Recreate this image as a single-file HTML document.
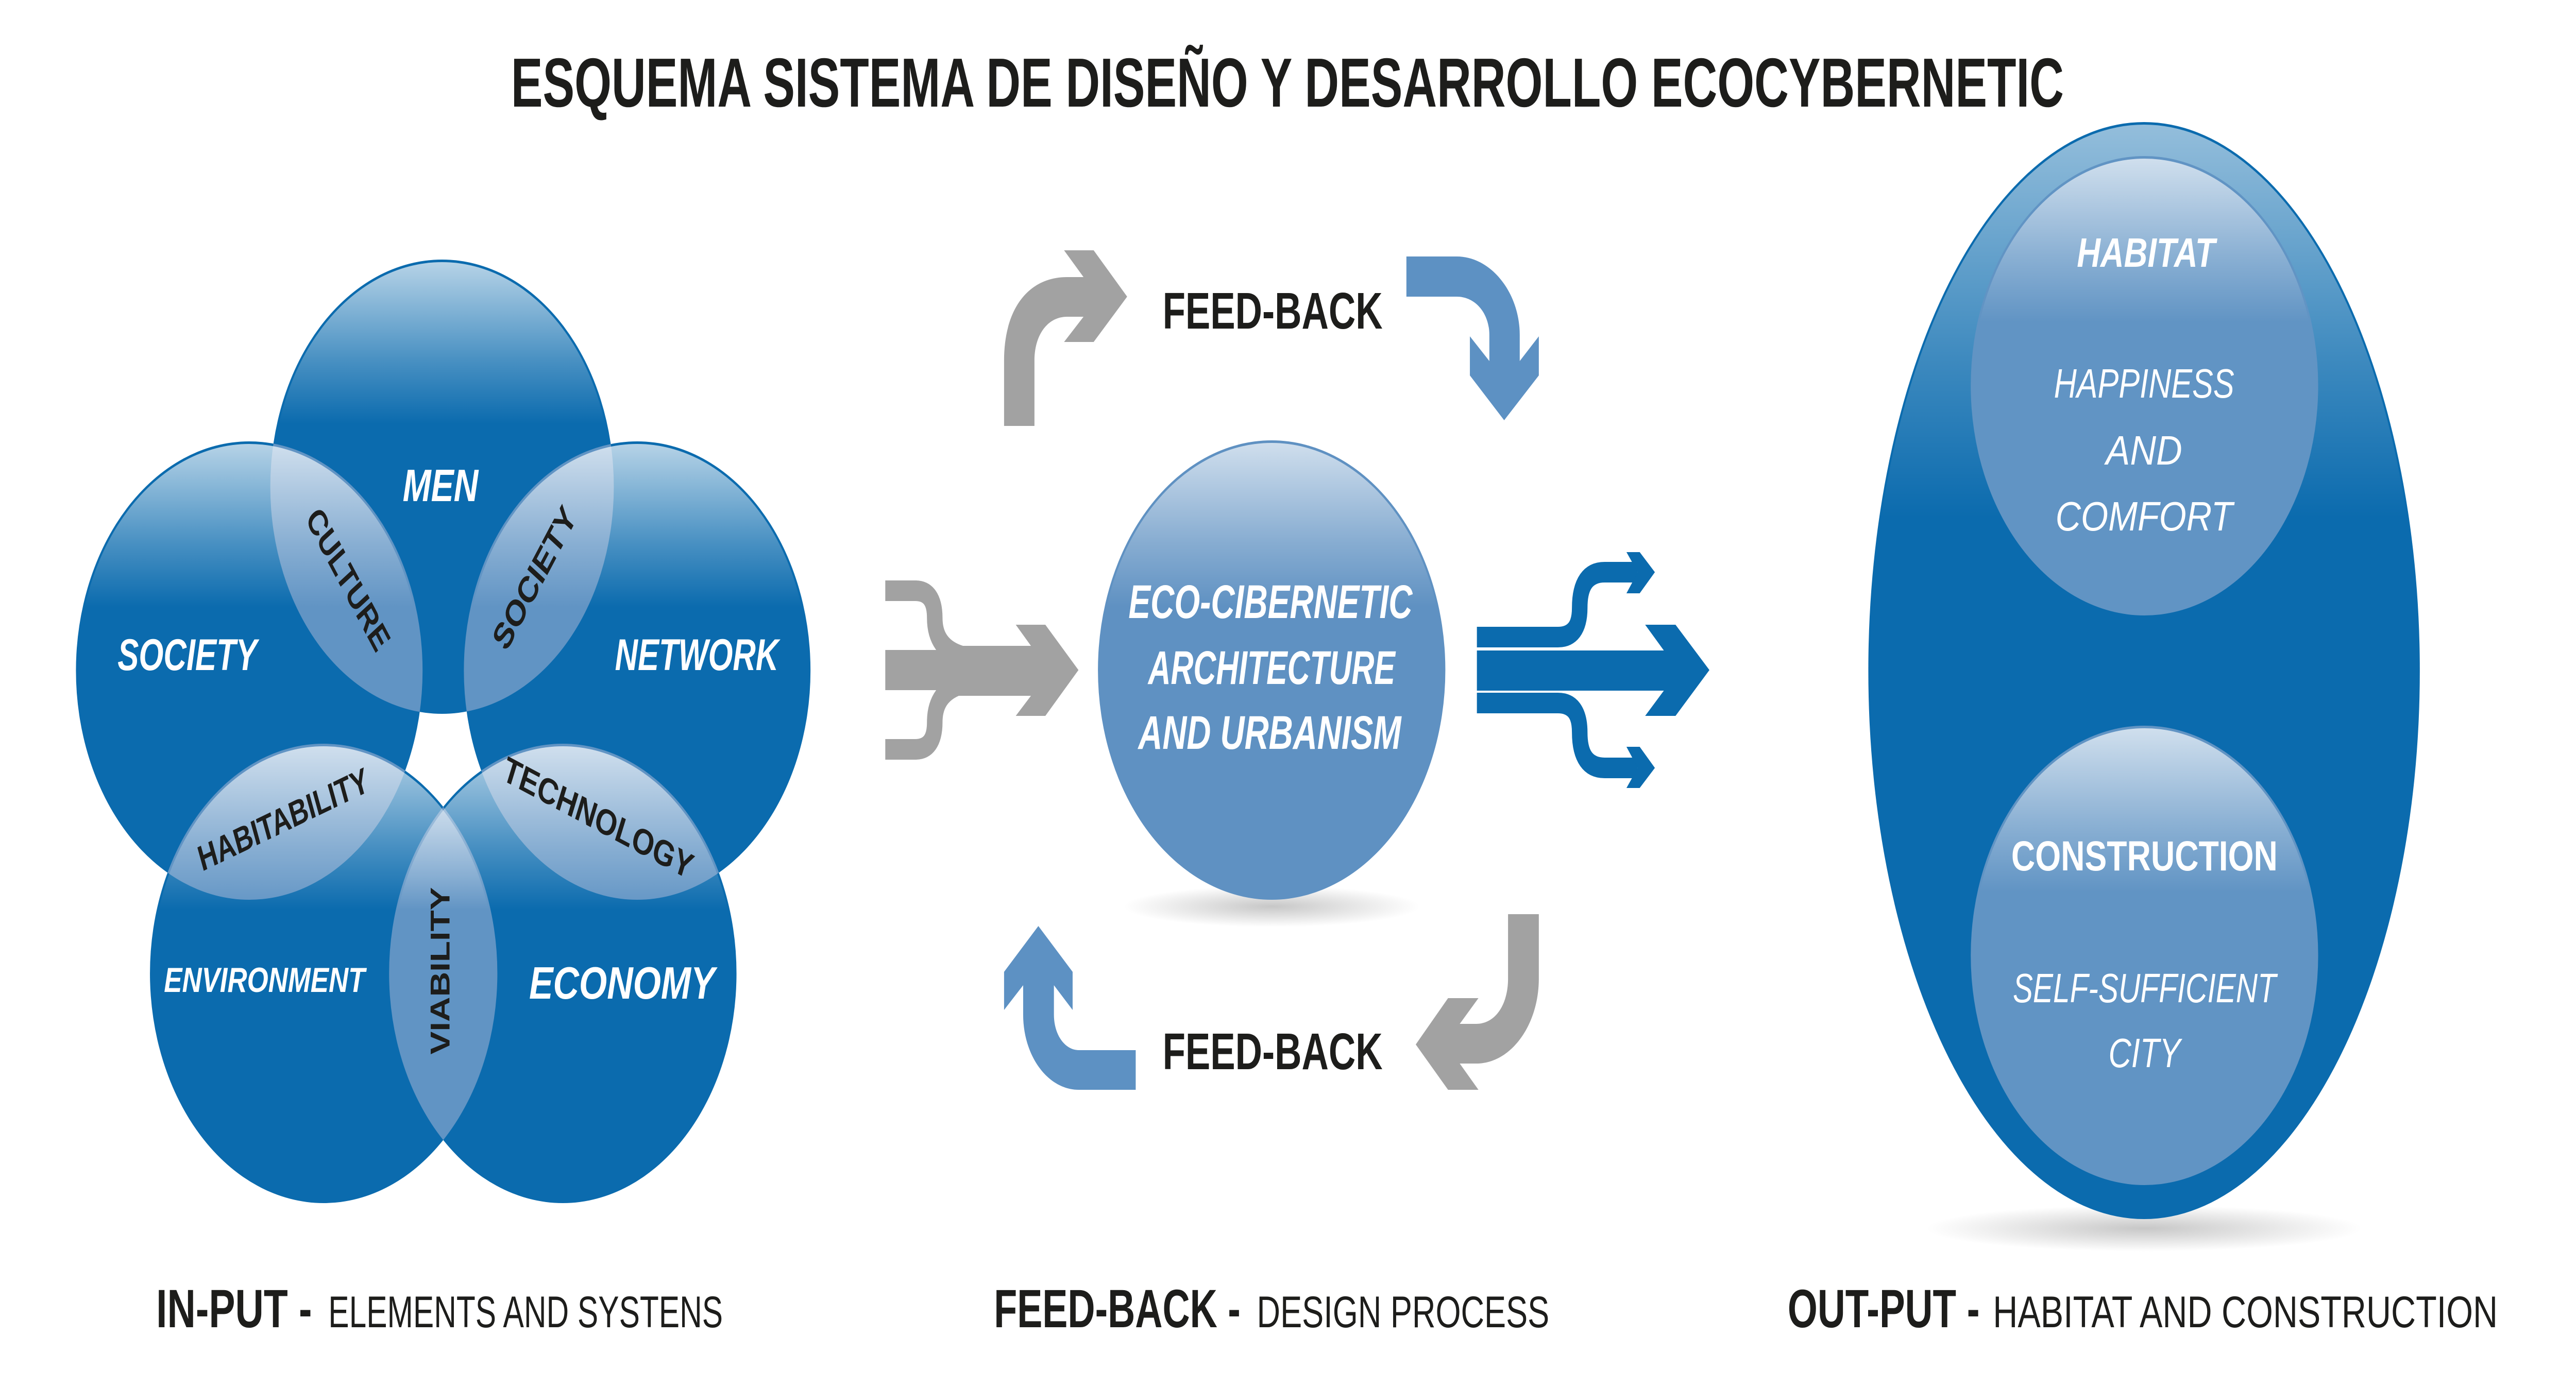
<!DOCTYPE html>
<html><head><meta charset="utf-8"><style>
html,body{margin:0;padding:0;background:#fff;width:100%;height:100%;overflow:hidden;}
svg{display:block;width:100vw;height:100vh;}
text{font-family:"Liberation Sans",sans-serif;}
</style></head><body>
<svg viewBox="0 0 6614 2695" preserveAspectRatio="none" xmlns="http://www.w3.org/2000/svg">
<defs>
<linearGradient id="gl" x1="0" y1="0" x2="0" y2="1">
<stop offset="0" stop-color="#fff" stop-opacity="0.7"/>
<stop offset="0.22" stop-color="#fff" stop-opacity="0.25"/>
<stop offset="0.36" stop-color="#fff" stop-opacity="0"/>
<stop offset="1" stop-color="#fff" stop-opacity="0"/>
</linearGradient>
<radialGradient id="sh" cx="0.5" cy="0.5" r="0.5">
<stop offset="0" stop-color="#000" stop-opacity="0.22"/>
<stop offset="1" stop-color="#000" stop-opacity="0"/>
</radialGradient>
<clipPath id="cMen"><circle cx="1135" cy="945" r="441"/></clipPath>
<clipPath id="cSoc"><circle cx="640" cy="1302" r="445"/></clipPath>
<clipPath id="cNet"><circle cx="1636" cy="1302" r="445"/></clipPath>
<clipPath id="cEnv"><circle cx="831" cy="1890" r="446"/></clipPath>
</defs>

<text x="1312" y="207" font-size="135" font-weight="bold" fill="#1d1d1b" textLength="3987" lengthAdjust="spacingAndGlyphs">ESQUEMA SISTEMA DE DISEÑO Y DESARROLLO ECOCYBERNETIC</text>

<g fill="#0b6bae">
<circle cx="1135" cy="945" r="441"/>
<circle cx="640" cy="1302" r="445"/>
<circle cx="1636" cy="1302" r="445"/>
<circle cx="831" cy="1890" r="446"/>
<circle cx="1445" cy="1890" r="446"/>
</g>
<g fill="#6194c4">
<circle cx="640" cy="1302" r="445" clip-path="url(#cMen)"/>
<circle cx="1636" cy="1302" r="445" clip-path="url(#cMen)"/>
<circle cx="831" cy="1890" r="446" clip-path="url(#cSoc)"/>
<circle cx="1445" cy="1890" r="446" clip-path="url(#cNet)"/>
<circle cx="1445" cy="1890" r="446" clip-path="url(#cEnv)"/>
</g>
<g fill="url(#gl)">
<circle cx="1135" cy="945" r="436"/>
<circle cx="640" cy="1302" r="440"/>
<circle cx="1636" cy="1302" r="440"/>
<circle cx="831" cy="1890" r="441"/>
<circle cx="1445" cy="1890" r="441"/>
</g>
<g fill="#fff" font-weight="bold" font-style="italic">
<text x="1131" y="973" font-size="88" text-anchor="middle" textLength="194" lengthAdjust="spacingAndGlyphs">MEN</text>
<text x="481" y="1301" font-size="86" text-anchor="middle" textLength="358" lengthAdjust="spacingAndGlyphs">SOCIETY</text>
<text x="1789" y="1301" font-size="86" text-anchor="middle" textLength="420" lengthAdjust="spacingAndGlyphs">NETWORK</text>
<text x="679" y="1926" font-size="68" text-anchor="middle" textLength="516" lengthAdjust="spacingAndGlyphs">ENVIRONMENT</text>
<text x="1597" y="1939" font-size="88" text-anchor="middle" textLength="477" lengthAdjust="spacingAndGlyphs">ECONOMY</text>
</g>
<g fill="#1d1d1b" font-weight="bold" font-size="70">
<text transform="translate(894,1125) rotate(55)" y="24" text-anchor="middle" textLength="320" lengthAdjust="spacingAndGlyphs">CULTURE</text>
<text transform="translate(1372,1122) rotate(-55)" y="24" text-anchor="middle" textLength="320" lengthAdjust="spacingAndGlyphs">SOCIETY</text>
<text transform="translate(727,1591) rotate(-20)" y="24" text-anchor="middle" textLength="460" lengthAdjust="spacingAndGlyphs">HABITABILITY</text>
<text transform="translate(1536,1588) rotate(22)" y="24" text-anchor="middle" textLength="520" lengthAdjust="spacingAndGlyphs">TECHNOLOGY</text>
<text transform="translate(1130,1885) rotate(-90)" y="24" text-anchor="middle" textLength="325" lengthAdjust="spacingAndGlyphs">VIABILITY</text>
</g>

<path fill="#a2a2a2" d="M2578,827 L2578,700 C2578,600 2640,538 2740,538 L2782,538 L2732,486 L2808,486 L2894,576 L2808,664 L2732,664 L2782,615 L2740,615 C2690,615 2656,650 2656,700 L2656,827 Z"/>
<path fill="#5d91c3" d="M3611,498 L3740,498 C3830,498 3902,570 3902,650 L3902,701 L3951,653 L3951,729 L3862,816 L3774,729 L3774,653 L3824,701 L3824,650 C3824,610 3790,576 3740,576 L3611,576 Z"/>
<path fill="#a2a2a2" d="M3951,1775 L3951,1900 C3951,1990 3880,2065 3790,2065 L3748,2065 L3796,2116 L3718,2116 L3635,2028 L3718,1938 L3796,1938 L3748,1988 L3790,1988 C3840,1988 3872,1950 3872,1900 L3872,1775 Z"/>
<path fill="#5d91c3" d="M2916,2039 L2770,2039 C2735,2039 2706,2010 2706,1970 L2706,1913 L2754,1961 L2754,1887 L2666,1798 L2578,1887 L2578,1961 L2627,1913 L2627,1970 C2627,2050 2690,2116 2770,2116 L2916,2116 Z"/>
<g fill="#1d1d1b" font-weight="bold" font-size="100">
<text x="2985" y="638" textLength="565" lengthAdjust="spacingAndGlyphs">FEED-BACK</text>
<text x="2985" y="2076" textLength="565" lengthAdjust="spacingAndGlyphs">FEED-BACK</text>
</g>

<g fill="none" stroke="#a2a2a2" stroke-width="40">
<path d="M2273,1147 L2350,1147 Q2400,1147 2400,1200 Q2400,1258 2470,1274"/>
<path d="M2273,1455 L2350,1455 Q2400,1455 2400,1402 Q2400,1344 2470,1328"/>
</g>
<path fill="#a2a2a2" d="M2273,1262 L2420,1262 L2440,1254 L2647,1254 L2608,1213 L2684,1213 L2769,1301 L2684,1390 L2608,1390 L2647,1351 L2440,1351 L2420,1340 L2273,1340 Z"/>

<ellipse cx="3265" cy="1760" rx="380" ry="40" fill="url(#sh)"/>
<circle cx="3265" cy="1301" r="446" fill="#5f91c2"/>
<circle cx="3265" cy="1301" r="441" fill="url(#gl)"/>
<g fill="#fff" font-weight="bold" font-style="italic" font-size="92" text-anchor="middle">
<text x="3262" y="1200" textLength="729" lengthAdjust="spacingAndGlyphs">ECO-CIBERNETIC</text>
<text x="3265" y="1328" textLength="634" lengthAdjust="spacingAndGlyphs">ARCHITECTURE</text>
<text x="3260" y="1454" textLength="675" lengthAdjust="spacingAndGlyphs">AND URBANISM</text>
</g>

<g fill="none" stroke="#0b6bae" stroke-width="40">
<path d="M3792,1237 L4000,1237 Q4056,1237 4056,1180 Q4056,1111 4120,1111 L4205,1111"/>
<path d="M3792,1365 L4000,1365 Q4056,1365 4056,1422 Q4056,1491 4120,1491 L4205,1491"/>
</g>
<g fill="#0b6bae">
<path d="M4176,1072 L4210,1072 L4249,1111 L4210,1152 L4176,1152 L4205,1111 Z"/>
<path d="M4176,1450 L4210,1450 L4249,1491 L4210,1530 L4176,1530 L4205,1491 Z"/>
<path d="M3792,1263 L4272,1263 L4224,1213 L4302,1213 L4389,1301 L4302,1390 L4224,1390 L4272,1341 L3792,1341 Z"/>
</g>

<ellipse cx="5505" cy="2385" rx="560" ry="45" fill="url(#sh)"/>
<ellipse cx="5505" cy="1302" rx="708" ry="1065" fill="#0b6bae"/>
<ellipse cx="5505" cy="1302" rx="703" ry="1060" fill="url(#gl)" opacity="0.8"/>
<circle cx="5506" cy="749" r="446" fill="#6194c4"/>
<circle cx="5506" cy="749" r="441" fill="url(#gl)"/>
<circle cx="5506" cy="1855" r="446" fill="#6194c4"/>
<circle cx="5506" cy="1855" r="441" fill="url(#gl)"/>
<g fill="#fff" text-anchor="middle">
<text x="5510" y="518" font-size="80" font-weight="bold" font-style="italic" textLength="355" lengthAdjust="spacingAndGlyphs">HABITAT</text>
<text x="5505" y="772" font-size="80" font-style="italic" textLength="463" lengthAdjust="spacingAndGlyphs">HAPPINESS</text>
<text x="5505" y="902" font-size="80" font-style="italic" textLength="196" lengthAdjust="spacingAndGlyphs">AND</text>
<text x="5505" y="1030" font-size="80" font-style="italic" textLength="455" lengthAdjust="spacingAndGlyphs">COMFORT</text>
<text x="5506" y="1690" font-size="82" font-weight="bold" textLength="684" lengthAdjust="spacingAndGlyphs">CONSTRUCTION</text>
<text x="5506" y="1946" font-size="80" font-style="italic" textLength="676" lengthAdjust="spacingAndGlyphs">SELF-SUFFICIENT</text>
<text x="5506" y="2072" font-size="80" font-style="italic" textLength="185" lengthAdjust="spacingAndGlyphs">CITY</text>
</g>

<g fill="#1d1d1b">
<text x="401" y="2577" font-size="105" font-weight="bold" textLength="400" lengthAdjust="spacingAndGlyphs">IN-PUT -</text>
<text x="843" y="2577" font-size="86" textLength="1013" lengthAdjust="spacingAndGlyphs">ELEMENTS AND SYSTENS</text>
<text x="2552" y="2577" font-size="105" font-weight="bold" textLength="633" lengthAdjust="spacingAndGlyphs">FEED-BACK -</text>
<text x="3227" y="2577" font-size="86" textLength="751" lengthAdjust="spacingAndGlyphs">DESIGN PROCESS</text>
<text x="4590" y="2577" font-size="105" font-weight="bold" textLength="493" lengthAdjust="spacingAndGlyphs">OUT-PUT -</text>
<text x="5117" y="2577" font-size="86" textLength="1296" lengthAdjust="spacingAndGlyphs">HABITAT AND CONSTRUCTION</text>
</g>
</svg>
</body></html>
